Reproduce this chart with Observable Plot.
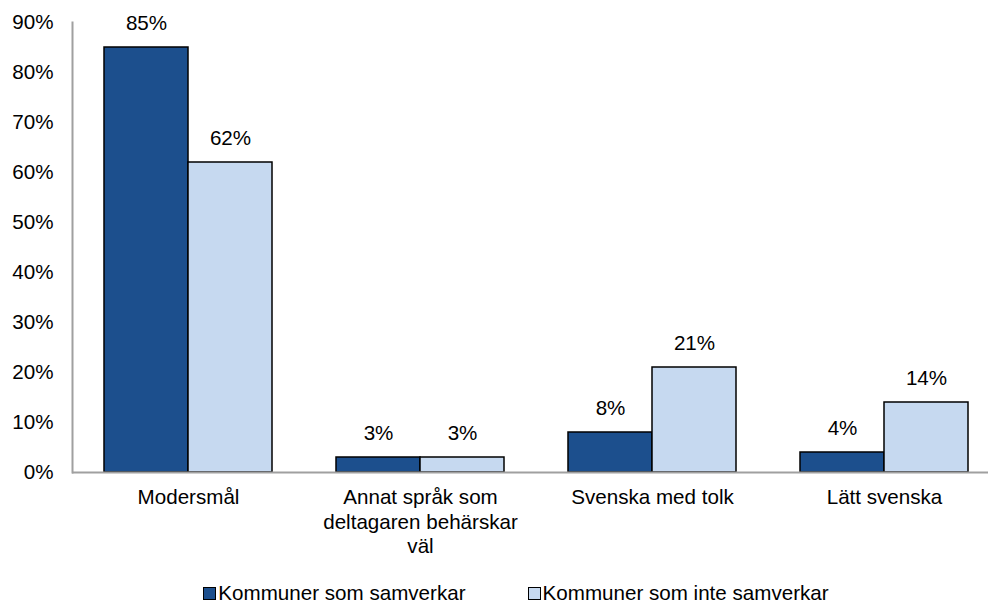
<!DOCTYPE html>
<html>
<head>
<meta charset="utf-8">
<script src="https://cdn.jsdelivr.net/npm/d3@7"></script>
<script src="https://cdn.jsdelivr.net/npm/@observablehq/plot@0.6"></script>
<style>
  html, body { margin: 0; padding: 0; background: #fff; }
  body { width: 988px; height: 603px; overflow: hidden; font-family: "Liberation Sans", Arial, sans-serif; }
  #legend { height: 43px; display: flex; justify-content: center; align-items: flex-start; padding-left: 44px; box-sizing: border-box; padding-top: 21px; font-size: 20.6px; line-height: 24px; color: #000; }
  .item { display: flex; align-items: center; margin: 0 31px; }
  .sw { width: 11px; height: 11px; border: 1.5px solid #000; margin-right: 2px; }
</style>
</head>
<body>
<div id="chart"></div>
<div id="legend"></div>
<script>
const categories = ["Modersmål", "Annat språk som deltagaren behärskar väl", "Svenska med tolk", "Lätt svenska"];
const categoryLabels = ["Modersmål", "Annat språk som\ndeltagaren behärskar\nväl", "Svenska med tolk", "Lätt svenska"];
const seriesNames = ["Kommuner som samverkar", "Kommuner som inte samverkar"];
const samverkar = [85, 3, 8, 4];
const inteSamverkar = [62, 3, 21, 14];
const yTicks = [0, 10, 20, 30, 40, 50, 60, 70, 80, 90];
const colors = ["#1C4F8D", "#C6D9F0"];

const rowsA = categories.map((c, i) => ({cat: c, v: samverkar[i]}));
const rowsB = categories.map((c, i) => ({cat: c, v: inteSamverkar[i]}));
const labelOf = new Map(categories.map((c, i) => [c, categoryLabels[i]]));

const half = 84;
const fs = 20.6;
const chart = Plot.plot({
  width: 988,
  height: 560,
  marginLeft: 72,
  marginRight: -12,
  marginTop: 22,
  marginBottom: 88,
  style: {fontFamily: "'Liberation Sans', Arial, sans-serif", fontSize: fs + "px", color: "#000", background: "#fff"},
  x: {domain: categories, paddingInner: 0.276, paddingOuter: 0.138, axis: null},
  y: {domain: [0, 90], axis: null},
  marks: [
    Plot.barY(rowsA, {x: "cat", y: "v", fill: colors[0], stroke: "#000", strokeWidth: 1.5, insetRight: half}),
    Plot.barY(rowsB, {x: "cat", y: "v", fill: colors[1], stroke: "#000", strokeWidth: 1.5, insetLeft: half}),
    Plot.ruleY([0], {stroke: "#a0a0a0", strokeWidth: 2}),
    Plot.frame({anchor: "left", stroke: "#a0a0a0", strokeWidth: 2}),
    Plot.axisY({ticks: yTicks, tickSize: 0, tickPadding: 19, tickFormat: d => d + "%", fontSize: fs, label: null}),
    Plot.axisX({tickSize: 0, tickPadding: 14, tickFormat: d => labelOf.get(d), fontSize: fs, label: null, lineHeight: 1.2}),
    Plot.text(rowsA, {x: "cat", y: "v", text: d => d.v + "%", dx: -half / 2, dy: -24, fontSize: fs, fill: "#000"}),
    Plot.text(rowsB, {x: "cat", y: "v", text: d => d.v + "%", dx: half / 2, dy: -24, fontSize: fs, fill: "#000"})
  ]
});
document.getElementById("chart").appendChild(chart);

const legend = document.getElementById("legend");
seriesNames.forEach((name, i) => {
  const item = document.createElement("div");
  item.className = "item";
  const sw = document.createElement("div");
  sw.className = "sw";
  sw.style.background = colors[i];
  const t = document.createElement("span");
  t.textContent = name;
  item.appendChild(sw);
  item.appendChild(t);
  legend.appendChild(item);
});
</script>
</body>
</html>
